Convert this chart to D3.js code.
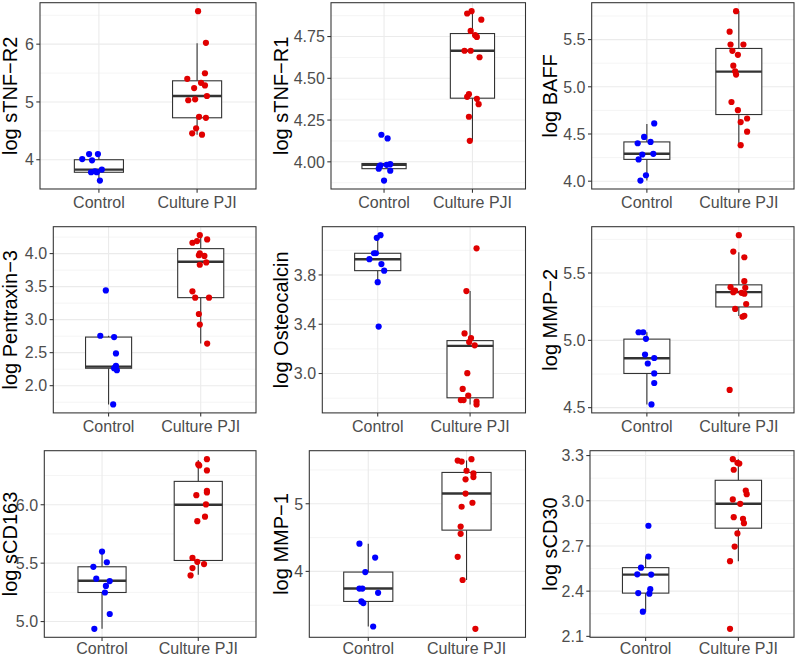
<!DOCTYPE html>
<html>
<head>
<meta charset="utf-8">
<script src="https://cdn.jsdelivr.net/npm/d3@7"></script>
<style>
  html, body { margin: 0; padding: 0; background: #ffffff; }
  svg { display: block; }
  text { font-family: "Liberation Sans", Arial, Helvetica, sans-serif; }
</style>
</head>
<body>
<svg id="chart" width="797" height="658"></svg>
<script>
// ---------------- DATA ----------------
const categories = ["Control", "Culture PJI"];
const titles = ["log sTNF\u2212R2", "log sTNF\u2212R1", "log BAFF",
                "log Pentraxin\u22123", "log Osteocalcin", "log MMP\u22122",
                "log sCD163", "log MMP\u22121", "log sCD30"];

const controlValues = [
  [4.097, 4.097, 4.011, 3.989, 3.783, 3.783, 3.800, 3.829, 3.640],
  [4.162, 4.140, 3.979, 3.986, 3.959, 3.947, 3.888, 3.974, 3.982],
  [4.612, 4.469, 4.402, 4.416, 4.283, 4.290, 4.231, 4.063, 4.007],
  [3.443, 2.756, 2.736, 2.488, 2.299, 2.264, 2.234, 2.274, 1.716],
  [4.123, 4.101, 3.976, 3.976, 3.928, 3.888, 3.835, 3.741, 3.381],
  [5.060, 5.060, 5.011, 4.894, 4.869, 4.828, 4.754, 4.683, 4.524],
  [5.599, 5.508, 5.469, 5.367, 5.347, 5.305, 5.249, 5.065, 4.938],
  [4.410, 4.205, 3.990, 3.746, 3.746, 3.683, 3.556, 3.532, 3.185],
  [2.834, 2.630, 2.556, 2.512, 2.510, 2.413, 2.383, 2.387, 2.264]
];
const controlJitter = [
  [-0.10, -0.01, -0.17, -0.07, -0.08, -0.02, -0.04, 0.03, 0.01],
  [-0.03, 0.04, -0.04, 0.07, -0.06, 0.07, 0.00, -0.05, 0.03],
  [0.08, -0.03, -0.10, 0.04, -0.05, 0.07, -0.09, -0.01, -0.07],
  [-0.03, -0.09, 0.06, 0.08, 0.08, 0.06, 0.09, 0.07, 0.05],
  [0.03, -0.01, -0.04, -0.02, -0.09, 0.04, 0.07, 0.00, 0.01],
  [-0.09, -0.04, -0.01, -0.02, 0.08, 0.01, 0.08, 0.08, 0.05],
  [0.00, 0.05, -0.09, -0.06, 0.08, 0.04, 0.03, 0.08, -0.08],
  [-0.09, 0.07, -0.03, -0.09, -0.06, 0.10, -0.07, -0.05, 0.05],
  [0.03, 0.03, -0.05, -0.09, 0.06, 0.05, 0.04, -0.08, -0.03]
];
const pjiValues = [
  [6.571, 6.023, 5.497, 5.400, 5.331, 5.286, 5.240, 5.103, 5.029, 5.046, 4.743, 4.726, 4.543, 4.457, 4.434],
  [4.888, 4.902, 4.851, 4.784, 4.758, 4.748, 4.665, 4.665, 4.626, 4.405, 4.389, 4.377, 4.345, 4.270, 4.126],
  [5.801, 5.584, 5.448, 5.448, 5.381, 5.339, 5.224, 5.164, 5.129, 4.839, 4.752, 4.664, 4.626, 4.524, 4.381],
  [4.279, 4.164, 4.189, 4.214, 4.005, 3.975, 3.965, 3.866, 3.831, 3.428, 3.333, 3.333, 3.085, 2.925, 2.637],
  [4.016, 3.669, 3.325, 3.288, 3.256, 3.229, 3.003, 2.875, 2.821, 2.784, 2.784, 2.773, 2.749],
  [5.781, 5.659, 5.617, 5.439, 5.395, 5.390, 5.370, 5.358, 5.353, 5.346, 5.270, 5.233, 5.182, 5.175, 4.632],
  [6.390, 6.345, 6.336, 6.294, 6.119, 6.105, 6.082, 6.003, 5.898, 5.859, 5.545, 5.511, 5.492, 5.458, 5.395],
  [5.639, 5.624, 5.659, 5.488, 5.449, 5.395, 5.361, 5.151, 5.015, 4.956, 4.663, 4.556, 4.215, 3.873, 3.151],
  [3.276, 3.252, 3.247, 3.206, 3.068, 3.044, 3.009, 2.980, 2.891, 2.880, 2.851, 2.783, 2.696, 2.599, 2.150]
];
const pjiJitter = [
  [0.01, 0.09, 0.08, -0.10, 0.04, 0.08, -0.03, 0.10, -0.09, -0.02, 0.02, 0.09, -0.01, -0.05, 0.05],
  [-0.06, -0.01, 0.10, -0.02, 0.03, 0.05, -0.09, -0.02, 0.08, -0.04, -0.06, 0.05, 0.07, -0.04, -0.03],
  [-0.03, -0.10, -0.09, 0.05, -0.07, -0.01, -0.06, -0.04, -0.03, -0.08, -0.01, 0.09, 0.02, 0.09, 0.02],
  [-0.01, -0.09, -0.04, 0.07, -0.01, -0.02, 0.04, 0.06, -0.01, -0.09, -0.06, 0.09, -0.02, -0.01, 0.07],
  [0.07, -0.04, -0.06, 0.01, -0.01, 0.05, -0.03, -0.08, -0.02, -0.10, -0.07, 0.07, 0.07],
  [0.00, -0.06, 0.06, 0.06, -0.09, 0.07, -0.04, -0.06, 0.03, 0.06, 0.08, -0.04, 0.06, 0.04, -0.10],
  [0.09, 0.00, 0.01, 0.09, 0.09, 0.09, -0.02, 0.08, 0.07, -0.01, -0.06, -0.01, 0.06, -0.06, -0.08],
  [-0.09, -0.05, 0.05, 0.00, 0.07, 0.07, -0.01, -0.01, 0.06, -0.05, -0.06, -0.06, -0.09, -0.04, 0.09],
  [-0.06, -0.01, 0.01, -0.05, 0.08, 0.09, -0.06, 0.02, -0.05, 0.05, 0.06, -0.01, -0.04, -0.09, -0.09]
];
// box statistics: [lower whisker, Q1, median, Q3, upper whisker]
const controlBox = [
  [3.640, 3.783, 3.829, 4.000, 4.097],
  [3.959, 3.959, 3.982, 3.990, 3.990],
  [4.007, 4.231, 4.290, 4.416, 4.605],
  [1.716, 2.264, 2.289, 2.736, 2.756],
  [3.741, 3.835, 3.928, 3.976, 4.115],
  [4.524, 4.754, 4.867, 5.009, 5.060],
  [4.938, 5.249, 5.350, 5.469, 5.599],
  [3.185, 3.556, 3.746, 3.990, 4.410],
  [2.264, 2.387, 2.510, 2.556, 2.630]
];
const pjiBox = [
  [4.434, 4.726, 5.103, 5.366, 6.017],
  [4.126, 4.381, 4.665, 4.768, 4.902],
  [4.381, 4.706, 5.161, 5.406, 5.801],
  [2.637, 3.333, 3.876, 4.075, 4.279],
  [2.749, 2.803, 3.224, 3.267, 3.669],
  [5.180, 5.248, 5.358, 5.412, 5.654],
  [5.400, 5.523, 6.000, 6.200, 6.384],
  [3.873, 4.610, 5.151, 5.463, 5.640],
  [2.599, 2.818, 2.980, 3.136, 3.276]
];
const yTicks = [
  [4, 5, 6],
  [4.00, 4.25, 4.50, 4.75],
  [4.0, 4.5, 5.0, 5.5],
  [2.0, 2.5, 3.0, 3.5, 4.0],
  [3.0, 3.4, 3.8],
  [4.5, 5.0, 5.5],
  [5.0, 5.5, 6.0],
  [4, 5],
  [2.1, 2.4, 2.7, 3.0, 3.3]
];
const tickDigits = [0, 2, 1, 1, 1, 1, 1, 0, 1];

// ---------------- LAYOUT ----------------
const panelLeft = [40, 331, 591.7, 53.3, 322.3, 591.7, 44.3, 309.3, 590];
const colRight = [256, 525.5, 794];
const rowTop = [2.7, 226.7, 450.7];
const rowBottom = [189, 412.9, 637.3];
const rowLabelGap = [19.3, 19.3, 17.0];
const titleX = [17.2, 288.2, 556.8];

const colBorder = "#333333";
const colTick = "#4d4d4d";
const colGrid = "#ebebeb";
const colControl = "#0000ff";
const colPJI = "#e00000";

const svg = d3.select("#chart");

titles.forEach((title, i) => {
  const col = i % 3, row = Math.floor(i / 3);
  const left = panelLeft[i], right = colRight[col];
  const top = rowTop[row], bottom = rowBottom[row];

  const allVals = controlValues[i].concat(pjiValues[i]);
  const [mn, mx] = d3.extent(allVals);
  const pad = (mx - mn) * 0.05;
  const y = d3.scaleLinear().domain([mn - pad, mx + pad]).range([bottom, top]);
  const x = d3.scaleLinear().domain([0.4, 2.6]).range([left, right]);

  const g = svg.append("g");

  g.append("rect").attr("x", left).attr("y", top)
    .attr("width", right - left).attr("height", bottom - top).attr("fill", "#fff");

  // minor grid
  const ticks = yTicks[i];
  const step = ticks[1] - ticks[0];
  const dom = y.domain();
  const minors = [];
  for (let v = ticks[0] - step / 2; v <= dom[1]; v += step) {
    if (v >= dom[0]) minors.push(v);
  }
  g.selectAll(".minor").data(minors).enter().append("line")
    .attr("x1", left).attr("x2", right)
    .attr("y1", d => y(d)).attr("y2", d => y(d))
    .attr("stroke", colGrid).attr("stroke-width", 0.55);

  // major grid
  g.selectAll(".major").data(ticks).enter().append("line")
    .attr("x1", left).attr("x2", right)
    .attr("y1", d => y(d)).attr("y2", d => y(d))
    .attr("stroke", colGrid).attr("stroke-width", 1.1);
  g.selectAll(".vmajor").data([1, 2]).enter().append("line")
    .attr("x1", d => x(d)).attr("x2", d => x(d))
    .attr("y1", top).attr("y2", bottom)
    .attr("stroke", colGrid).attr("stroke-width", 1.1);

  // boxplots
  const boxes = [controlBox[i], pjiBox[i]];
  boxes.forEach((b, k) => {
    const cx = x(k + 1);
    const x0 = x(k + 1 - 0.25), x1 = x(k + 1 + 0.25);
    const bg = g.append("g").attr("stroke", colBorder).attr("fill", "none");
    bg.append("line").attr("x1", cx).attr("x2", cx)
      .attr("y1", y(b[3])).attr("y2", y(b[4])).attr("stroke-width", 1.1);
    bg.append("line").attr("x1", cx).attr("x2", cx)
      .attr("y1", y(b[1])).attr("y2", y(b[0])).attr("stroke-width", 1.1);
    bg.append("rect").attr("x", x0).attr("y", y(b[3]))
      .attr("width", x1 - x0).attr("height", y(b[1]) - y(b[3]))
      .attr("fill", "#ffffff").attr("stroke-width", 1.1);
    bg.append("line").attr("x1", x0).attr("x2", x1)
      .attr("y1", y(b[2])).attr("y2", y(b[2])).attr("stroke-width", 2.4);
  });

  // points
  const groups = [
    { vals: controlValues[i], jit: controlJitter[i], c: 1, color: colControl },
    { vals: pjiValues[i], jit: pjiJitter[i], c: 2, color: colPJI }
  ];
  groups.forEach(grp => {
    g.selectAll(null).data(grp.vals.map((v, j) => ({ v, j: grp.jit[j] }))).enter()
      .append("circle")
      .attr("cx", d => x(grp.c + d.j)).attr("cy", d => y(d.v))
      .attr("r", 3.1).attr("fill", grp.color);
  });

  // border
  g.append("rect").attr("x", left).attr("y", top)
    .attr("width", right - left).attr("height", bottom - top)
    .attr("fill", "none").attr("stroke", colBorder).attr("stroke-width", 1.07);

  // y ticks
  g.selectAll(".yt").data(ticks).enter().append("line")
    .attr("x1", left - 3.7).attr("x2", left)
    .attr("y1", d => y(d)).attr("y2", d => y(d))
    .attr("stroke", colBorder).attr("stroke-width", 1.07);
  g.selectAll(".yl").data(ticks).enter().append("text")
    .attr("x", left - 6.2).attr("y", d => y(d)).attr("dy", "0.36em")
    .attr("text-anchor", "end").attr("font-size", 16).attr("fill", colTick)
    .text(d => d.toFixed(tickDigits[i]));

  // x ticks
  g.selectAll(".xt").data([1, 2]).enter().append("line")
    .attr("x1", d => x(d)).attr("x2", d => x(d))
    .attr("y1", bottom).attr("y2", bottom + 3.7)
    .attr("stroke", colBorder).attr("stroke-width", 1.07);
  g.selectAll(".xl").data(categories).enter().append("text")
    .attr("x", (d, k) => x(k + 1)).attr("y", bottom + rowLabelGap[row])
    .attr("text-anchor", "middle").attr("font-size", 16).attr("fill", colTick)
    .text(d => d);

  // y title
  const ty = (top + bottom) / 2;
  g.append("text")
    .attr("transform", `translate(${titleX[col]},${ty}) rotate(-90)`)
    .attr("text-anchor", "middle").attr("font-size", 20).attr("fill", "#000")
    .text(title);
});
</script>
</body>
</html>
